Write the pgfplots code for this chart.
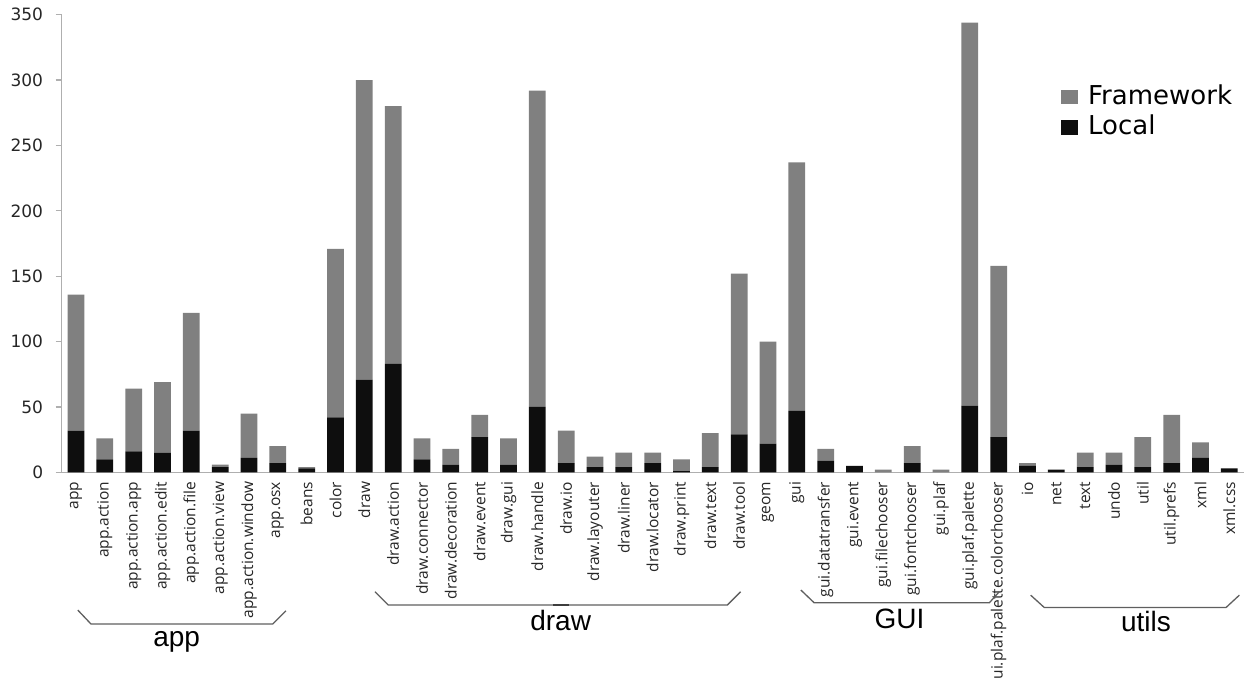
\documentclass[border=0pt]{standalone}
\usepackage{pgfplots}
\pgfplotsset{compat=1.18}
\usepackage{pgfplotstable}
\usepackage{fontspec}
\setmainfont{Open Sans}
\newfontfamily\dejavu{DejaVu Sans}
\newfontfamily\arialfont{Liberation Sans}

\definecolor{fwgray}{RGB}{128,128,128}
\definecolor{localblk}{RGB}{14,14,14}
\definecolor{axisgray}{RGB}{175,175,175}
\definecolor{bracegray}{RGB}{95,95,95}

% x = package index, local and framework dependencies
\pgfplotstableread{
x local framework
0  32 104
1  10 16
2  16 48
3  15 54
4  32 90
5  4  2
6  11 34
7  7  13
8  3  1
9  42 129
10 71 229
11 83 197
12 10 16
13 6  12
14 27 17
15 6  20
16 50 242
17 7  25
18 4  8
19 4  11
20 7  8
21 1  9
22 4  26
23 29 123
24 22 78
25 47 190
26 9  9
27 5  0
28 0  2
29 7  13
30 0  2
31 51 293
32 27 131
33 5  2
34 2  0
35 4  11
36 6  9
37 4  23
38 7  37
39 11 12
40 3  0
}\pkgdata

\tikzset{brace/.style={draw=bracegray, line width=1.3pt},
  grouplabel/.style={anchor=base, font=\arialfont\fontsize{28}{32}\selectfont}}

\begin{document}
\begin{tikzpicture}
\begin{axis}[
  scale only axis,
  width=1182pt, height=457.6pt,
  xmin=-0.5, xmax=40.5,
  ymin=0, ymax=350,
  ybar stacked, bar width=0.58,
  axis x line*=bottom, axis y line*=left,
  axis line style={draw=axisgray, line width=1.3pt},
  ytick={0,50,...,350},
  y tick style={draw=axisgray, line width=1.3pt},
  major tick length=6pt, tick align=outside,
  xtick={0,...,40},
  major x tick style={draw=none},
  xticklabels={app,app.action,app.action.app,app.action.edit,app.action.file,app.action.view,app.action.window,app.osx,beans,color,draw,draw.action,draw.connector,draw.decoration,draw.event,draw.gui,draw.handle,draw.io,draw.layouter,draw.liner,draw.locator,draw.print,draw.text,draw.tool,geom,gui,gui.datatransfer,gui.event,gui.filechooser,gui.fontchooser,gui.plaf,gui.plaf.palette,gui.plaf.palette.colorchooser,io,net,text,undo,util,util.prefs,xml,xml.css},
  xticklabel style={rotate=90, anchor=east, font=\fontsize{15.5}{18}\selectfont, text=black!85},
  yticklabel style={font=\dejavu\fontsize{17}{20}\selectfont, text=black!85, xshift=-9pt},
  /pgf/number format/assume math mode=true,
  legend style={draw=none, fill=none, at={(0.8423,0.855)}, anchor=north west,
    font=\dejavu\fontsize{26}{30}\selectfont, row sep=2.3pt,
    nodes={text height=19pt, text depth=5pt}},
  legend cell align=left,
  reverse legend,
  clip=false,
]
\addplot[fill=localblk, draw=none,
  legend image code/.code={\fill[localblk] (0pt,-7.2pt) rectangle (17.6pt,7.2pt); \path (25.6pt,0pt);}]
  table[x=x, y=local]{\pkgdata};
\addplot[fill=fwgray, draw=none,
  legend image code/.code={\fill[fwgray] (0pt,-7.2pt) rectangle (17.6pt,7.2pt); \path (25.6pt,0pt);}]
  table[x=x, y=framework]{\pkgdata};
\legend{Local,Framework}

% group braces under the package names
\draw[brace] (axis cs:0.06,-105.3) -- (axis cs:0.52,-116) -- (axis cs:6.82,-116) -- (axis cs:7.28,-105.9);
\draw[brace] (axis cs:10.37,-91.3) -- (axis cs:10.83,-101.5) -- (axis cs:22.59,-101.5) -- (axis cs:23.05,-91.3);
\draw[brace] (axis cs:25.14,-90) -- (axis cs:25.6,-99.7) -- (axis cs:31.68,-99.7) -- (axis cs:32.02,-91.3);
\draw[brace] (axis cs:33.11,-93.9) -- (axis cs:33.58,-103.3) -- (axis cs:39.89,-103.3) -- (axis cs:40.35,-93.9);
\draw[draw=black, line width=1.5pt] (axis cs:16.55,-101.5) -- (axis cs:17.1,-101.5);
\draw[draw=black, line width=1.5pt] (axis cs:27.7,-99.7) -- (axis cs:28.9,-99.7);
\node[grouplabel] at (axis cs:3.49,-132.9) {app};
\node[grouplabel] at (axis cs:16.81,-120.6) {draw};
\node[grouplabel] at (axis cs:28.56,-119.3) {GUI};
\node[grouplabel] at (axis cs:37.11,-121.9) {utils};
\end{axis}
\pgfresetboundingbox
\path[use as bounding box] ([shift={(-61.6pt,-204.7pt)}]current axis.south west)
  rectangle ([shift={(1.3pt,14.7pt)}]current axis.north east);
\end{tikzpicture}
\end{document}
